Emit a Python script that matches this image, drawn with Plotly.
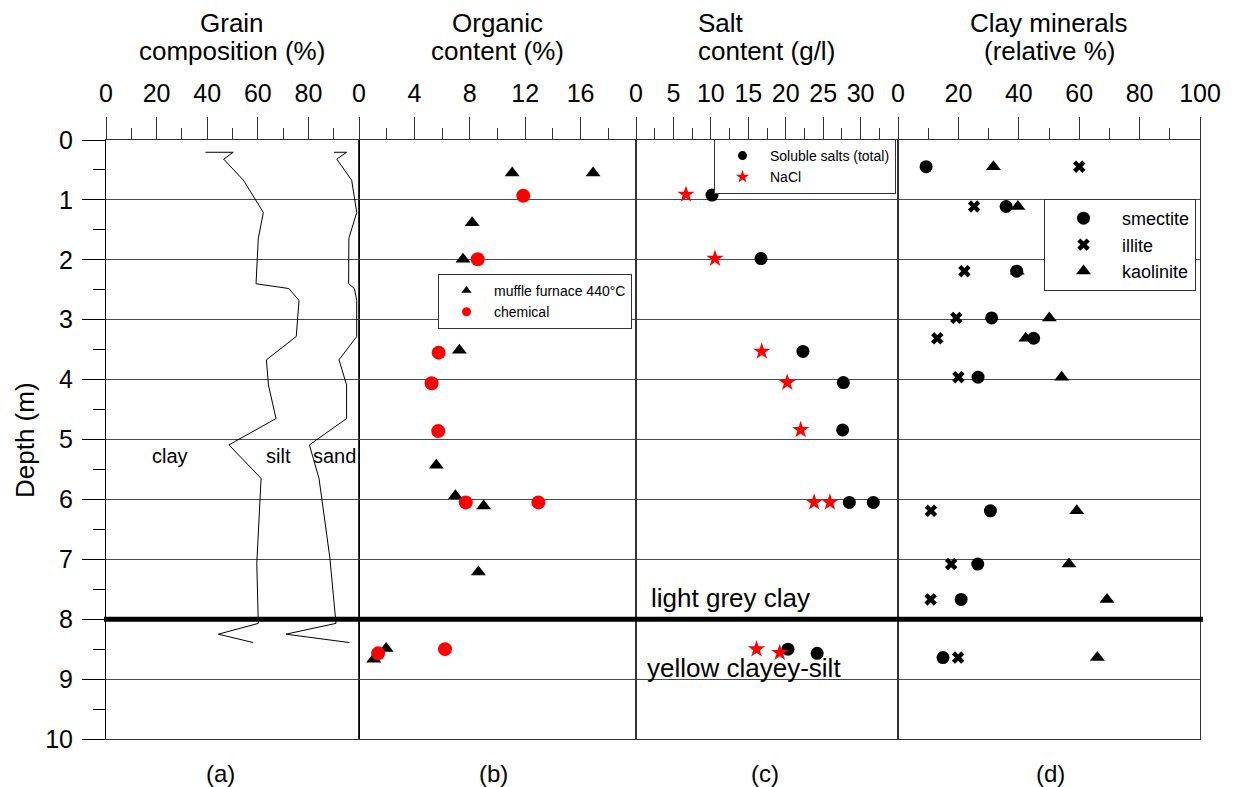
import plotly.graph_objects as go

W, H = 1233, 787

# ---------------- data ----------------
# (a) grain composition: cumulative boundaries (%)
clay_silt_pct = [39.3, 50.3, 46.5, 54.3, 62.2, 60.2, 59.3, 72.3, 76.3, 75.2, 63.4, 64.2, 67.2, 48.6, 61.3, 59.6, 60.2, 44.4, 58.2]
clay_silt_depth = [0.205, 0.205, 0.32, 0.67, 1.21, 1.64, 2.40, 2.48, 2.68, 3.28, 3.67, 4.09, 4.65, 5.09, 5.65, 7.07, 8.07, 8.25, 8.39]
silt_sand_pct = [90.1, 95.1, 91.2, 97.1, 99.1, 96.0, 95.9, 98.2, 99.1, 99.1, 92.1, 95.1, 95.1, 80.4, 84.2, 88.5, 90.9, 71.1, 96.2]
silt_sand_depth = [0.205, 0.205, 0.32, 0.67, 1.21, 1.64, 2.40, 2.48, 2.68, 3.28, 3.67, 4.09, 4.65, 5.09, 5.65, 6.98, 8.07, 8.25, 8.39]

# (b) organic content (%)
muffle_val = [11.06, 16.9, 8.17, 7.51, 7.25, 5.58, 6.96, 9.0, 8.62, 1.96, 1.06]
muffle_depth = [0.55, 0.55, 1.38, 1.99, 3.51, 5.43, 5.94, 6.11, 7.21, 8.49, 8.67]
chem_val = [11.86, 8.57, 5.75, 5.24, 5.72, 7.71, 12.95, 6.21, 1.38]
chem_depth = [0.93, 1.99, 3.55, 4.06, 4.86, 6.05, 6.05, 8.50, 8.57]

# (c) salt content (g/l)
soluble_val = [10.15, 16.7, 22.3, 27.7, 27.6, 28.5, 31.7, 20.3, 24.2]
soluble_depth = [0.92, 1.98, 3.53, 4.05, 4.84, 6.05, 6.05, 8.50, 8.57]
nacl_val = [6.68, 10.55, 16.8, 20.2, 22.0, 23.8, 25.9, 16.1, 19.2]
nacl_depth = [0.91, 1.98, 3.53, 4.05, 4.84, 6.05, 6.05, 8.50, 8.56]

# (d) clay minerals (relative %)
clay_depth = [0.445, 1.11, 2.19, 2.97, 3.31, 3.96, 6.19, 7.08, 7.67, 8.64]
smectite = [9.3, 35.8, 39.3, 31.0, 44.9, 26.5, 30.6, 26.4, 20.9, 14.9]
illite = [60.0, 25.2, 22.0, 19.3, 13.0, 20.0, 10.9, 17.6, 10.8, 19.9]
kaolinite = [31.6, 39.7, 39.5, 50.1, 42.3, 54.2, 59.2, 56.6, 69.2, 66.0]

boundary_depth = 8.0

ticks_a = [0, 20, 40, 60, 80, 100]
ticks_b = [0, 4, 8, 12, 16, 20]
ticks_c = [0, 5, 10, 15, 20, 25, 30, 35]
ticks_d = [0, 20, 40, 60, 80, 100]
depth_ticks = list(range(0, 11))

# ---------------- layout helpers ----------------
def px(x):
    return x / W

def py(y):
    return 1 - y / H

FONT = "Liberation Sans, Arial, sans-serif"
LINE = "#333333"
GRID = "#4a4a4a"

dom_a = [px(106), px(359)]
dom_b = [px(359), px(636)]
dom_c = [px(636), px(898)]
dom_d = [px(898), px(1200)]
ydom = [py(739), py(140)]

fig = go.Figure()

# (a)
for xs, ys in [(clay_silt_pct, clay_silt_depth), (silt_sand_pct, silt_sand_depth)]:
    fig.add_trace(go.Scatter(x=xs, y=ys, mode="lines", line=dict(color="black", width=1),
                             xaxis="x", yaxis="y", showlegend=False, hoverinfo="skip"))

# (b)
fig.add_trace(go.Scatter(x=muffle_val, y=muffle_depth, mode="markers",
                         marker=dict(symbol="triangle-up", size=13, color="black"),
                         xaxis="x2", yaxis="y2", showlegend=False))
fig.add_trace(go.Scatter(x=chem_val, y=chem_depth, mode="markers",
                         marker=dict(symbol="circle", size=14, color="#ff0000"),
                         xaxis="x2", yaxis="y2", showlegend=False))
fig.add_trace(go.Scatter(x=[None], y=[None], mode="markers", name="muffle furnace 440°C",
                         marker=dict(symbol="triangle-up", size=9, color="black"),
                         xaxis="x2", yaxis="y2", legend="legend"))
fig.add_trace(go.Scatter(x=[None], y=[None], mode="markers", name="chemical",
                         marker=dict(symbol="circle", size=9, color="#ff0000"),
                         xaxis="x2", yaxis="y2", legend="legend"))

# (c)
fig.add_trace(go.Scatter(x=soluble_val, y=soluble_depth, mode="markers",
                         marker=dict(symbol="circle", size=13, color="black"),
                         xaxis="x3", yaxis="y3", showlegend=False))
fig.add_trace(go.Scatter(x=nacl_val, y=nacl_depth, mode="markers",
                         marker=dict(symbol="star", size=13, color="#ff0000"),
                         xaxis="x3", yaxis="y3", showlegend=False))
fig.add_trace(go.Scatter(x=[None], y=[None], mode="markers", name="Soluble salts (total)",
                         marker=dict(symbol="circle", size=9, color="black"),
                         xaxis="x3", yaxis="y3", legend="legend2"))
fig.add_trace(go.Scatter(x=[None], y=[None], mode="markers", name="NaCl",
                         marker=dict(symbol="star", size=10, color="#ff0000"),
                         xaxis="x3", yaxis="y3", legend="legend2"))

# (d)
fig.add_trace(go.Scatter(x=kaolinite, y=clay_depth, mode="markers", name="kaolinite",
                         marker=dict(symbol="triangle-up", size=13, color="black"),
                         xaxis="x4", yaxis="y4", legend="legend3", legendrank=3))
fig.add_trace(go.Scatter(x=smectite, y=clay_depth, mode="markers", name="smectite",
                         marker=dict(symbol="circle", size=13, color="black"),
                         xaxis="x4", yaxis="y4", legend="legend3", legendrank=1))
fig.add_trace(go.Scatter(x=illite, y=clay_depth, mode="markers", name="illite",
                         marker=dict(symbol="x", size=11, color="black"),
                         xaxis="x4", yaxis="y4", legend="legend3", legendrank=2))


def xaxis(dom, anchor, ticks, labels_hide_last=True, minor_dtick=None, rng=None):
    text = [str(t) for t in ticks]
    if labels_hide_last:
        text[-1] = ""
    return dict(
        domain=dom, anchor=anchor, side="top", range=rng,
        tickmode="array", tickvals=ticks, ticktext=text,
        ticks="outside", ticklen=22, tickwidth=1, tickcolor=LINE, ticklabelstandoff=5,
        minor=dict(dtick=minor_dtick, ticks="outside", ticklen=11, tickwidth=1, tickcolor=LINE, showgrid=False),
        showgrid=False, zeroline=False, showline=True, linecolor=LINE, linewidth=1, mirror=True,
        tickfont=dict(size=25, color="black", family=FONT), automargin=False, fixedrange=True,
    )


def yaxis_other(anchor):
    return dict(domain=ydom, anchor=anchor, matches="y", range=[10, 0],
                showticklabels=False, ticks="", showgrid=True, gridcolor=GRID, gridwidth=1,
                tickmode="array", tickvals=depth_ticks,
                zeroline=False, showline=True, linecolor=LINE, linewidth=1, mirror=True, automargin=False)


fig.update_layout(
    width=W, height=H, margin=dict(l=0, r=0, t=0, b=0),
    paper_bgcolor="white", plot_bgcolor="white",
    font=dict(family=FONT, color="black"),
    xaxis=xaxis(dom_a, "y", ticks_a, True, 10, [0, 100]),
    xaxis2=xaxis(dom_b, "y2", ticks_b, True, 2, [0, 20]),
    xaxis3=xaxis(dom_c, "y3", ticks_c, True, 2.5, [0, 35]),
    xaxis4=xaxis(dom_d, "y4", ticks_d, False, 10, [0, 100]),
    yaxis=dict(domain=ydom, anchor="x", range=[10, 0], tickmode="array", tickvals=depth_ticks,
               ticks="outside", ticklen=23, tickwidth=1, tickcolor="black", ticklabelstandoff=4,
               minor=dict(dtick=0.5, ticks="outside", ticklen=12, tickwidth=1, tickcolor="black", showgrid=False),
               showgrid=True, gridcolor=GRID, gridwidth=1, zeroline=False,
               showline=True, linecolor="black", linewidth=1, mirror=True,
               tickfont=dict(size=25, color="black", family=FONT), automargin=False),
    yaxis2=yaxis_other("x2"),
    yaxis3=yaxis_other("x3"),
    yaxis4=yaxis_other("x4"),
    legend=dict(x=px(438), y=py(274), xanchor="left", yanchor="top", bgcolor="white",
                bordercolor=LINE, borderwidth=1, font=dict(size=14, family=FONT),
                itemwidth=45, tracegroupgap=0),
    legend2=dict(x=px(714), y=py(139), xanchor="left", yanchor="top", bgcolor="white",
                 bordercolor=LINE, borderwidth=1, font=dict(size=14, family=FONT),
                 itemwidth=45, tracegroupgap=0),
    legend3=dict(x=px(1044), y=py(199), xanchor="left", yanchor="top", bgcolor="white",
                 bordercolor=LINE, borderwidth=1, font=dict(size=18, family=FONT),
                 itemwidth=67, tracegroupgap=0),
)

# boundary between light grey clay and yellow clayey-silt
fig.add_shape(type="line", xref="paper", yref="y", x0=px(104), x1=px(1203),
              y0=boundary_depth, y1=boundary_depth, line=dict(color="black", width=5))

ann = []
# titles
def title(text, x, y, anchor="center"):
    ann.append(dict(text=text, xref="paper", yref="paper", x=px(x), y=py(y), xanchor=anchor,
                    yanchor="middle", showarrow=False, font=dict(size=26, family=FONT, color="black")))

title("Grain", 232, 23); title("composition (%)", 232, 51)
title("Organic", 497, 23); title("content (%)", 497, 51)
title("Salt", 696, 23, "left"); title("content (g/l)", 696, 51, "left")
title("Clay minerals", 1049, 23); title("(relative %)", 1049, 51)

for lab, xx in [("(a)", 220), ("(b)", 494), ("(c)", 765), ("(d)", 1050)]:
    ann.append(dict(text=lab, xref="paper", yref="paper", x=px(xx), y=py(773), xanchor="center",
                    yanchor="middle", showarrow=False, font=dict(size=24, family=FONT, color="black")))

ann.append(dict(text="Depth (m)", xref="paper", yref="paper", x=px(25), y=py(440), textangle=-90,
                xanchor="center", yanchor="middle", showarrow=False,
                font=dict(size=26, family=FONT, color="black")))

# panel (a) fraction labels
for lab, xv in [("clay", 25.3), ("silt", 68.0), ("sand", 90.5)]:
    ann.append(dict(text=lab, xref="x", yref="y", x=xv, y=5.27, xanchor="center", yanchor="middle",
                    showarrow=False, font=dict(size=20, family=FONT, color="black")))

# lithology labels in panel (c)
ann.append(dict(text="light grey clay", xref="x3", yref="y3", x=1.78, y=7.65, xanchor="left",
                yanchor="middle", showarrow=False, font=dict(size=26, family=FONT, color="black")))
ann.append(dict(text="yellow clayey-silt", xref="x3", yref="y3", x=1.2, y=8.81, xanchor="left",
                yanchor="middle", showarrow=False, font=dict(size=26, family=FONT, color="black")))

fig.update_layout(annotations=ann)

fig.write_html("out.html", config={"displayModeBar": False},
               post_script="document.body.style.margin='0px';document.body.style.overflow='hidden';")
